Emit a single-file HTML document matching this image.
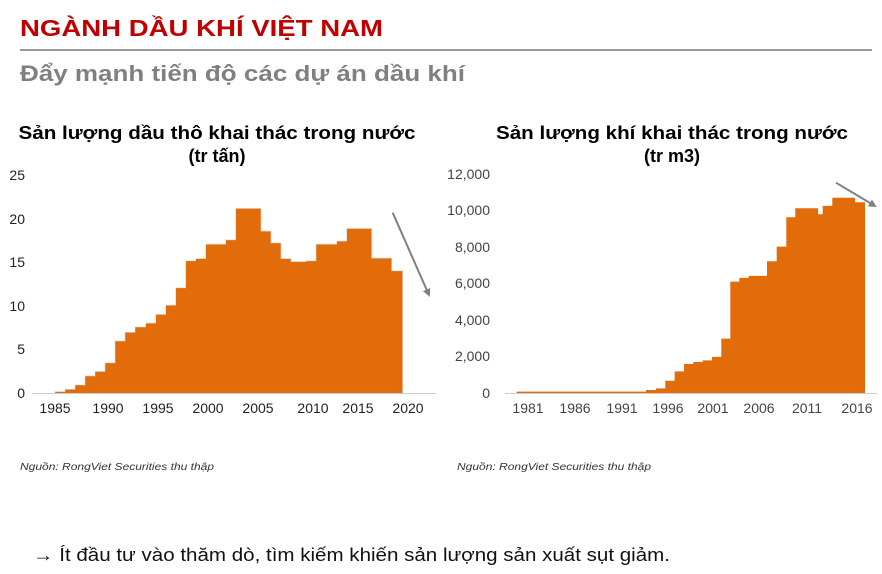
<!DOCTYPE html>
<html><head><meta charset="utf-8"><style>
html,body{margin:0;padding:0;background:#fff;}
svg{display:block;font-family:"Liberation Sans",sans-serif;}
</style></head><body>
<svg width="882" height="574" viewBox="0 0 882 574" xmlns="http://www.w3.org/2000/svg">
<defs><marker id="ah" markerWidth="8" markerHeight="8" refX="6" refY="4" orient="auto" markerUnits="userSpaceOnUse"><path d="M0,0 L8,4 L0,8 z" fill="#808080"/></marker></defs>
<text x="20" y="36" font-size="23" font-weight="bold" fill="#c00000" textLength="363" lengthAdjust="spacingAndGlyphs">NGÀNH DẦU KHÍ VIỆT NAM</text>
<rect x="20" y="49" width="852" height="2" fill="#999"/>
<text x="20" y="81" font-size="22" font-weight="bold" fill="#808080" textLength="445" lengthAdjust="spacingAndGlyphs">Đẩy mạnh tiến độ các dự án dầu khí</text>

<text x="217" y="139" font-size="18" font-weight="bold" text-anchor="middle" fill="#000" textLength="397" lengthAdjust="spacingAndGlyphs">Sản lượng dầu thô khai thác trong nước</text>
<text x="217" y="162" font-size="18" font-weight="bold" text-anchor="middle" fill="#000">(tr tấn)</text>
<text x="672" y="139" font-size="18" font-weight="bold" text-anchor="middle" fill="#000" textLength="352" lengthAdjust="spacingAndGlyphs">Sản lượng khí khai thác trong nước</text>
<text x="672" y="162" font-size="18" font-weight="bold" text-anchor="middle" fill="#000">(tr m3)</text>

<!-- left chart -->
<g font-size="14" fill="#222" text-anchor="end">
<text x="25" y="180">25</text><text x="25" y="224">20</text><text x="25" y="267">15</text><text x="25" y="311">10</text><text x="25" y="354">5</text><text x="25" y="398">0</text>
</g>
<path fill="#e36c0a" stroke="#d8d8d8" stroke-width="0.6" d="M55,393.3 V391.6 H65 V389.3 H75 V385 H85 V375.9 H95 V371.5 H105 V362.8 H115 V341 H125 V332.3 H135 V327 H145.7 V323.1 H155.7 V314.4 H165.7 V305.2 H175.7 V287.8 H185.7 V260.8 H195.7 V258.6 H205.7 V244.2 H225.7 V239.8 H235.7 V208.4 H261 V231.1 H271 V242.9 H281 V258.6 H291 V261.6 H306 V260.8 H316 V244.2 H336.7 V241.1 H346.7 V228.5 H371.7 V258.1 H391.7 V270.8 H402.7 V393.3 Z"/>
<rect x="32" y="393" width="404" height="1" fill="#ccc"/>
<g font-size="14" fill="#222" text-anchor="middle">
<text x="55" y="413">1985</text><text x="108" y="413">1990</text><text x="158" y="413">1995</text><text x="208" y="413">2000</text><text x="258" y="413">2005</text><text x="313" y="413">2010</text><text x="358" y="413">2015</text><text x="408" y="413">2020</text>
</g>
<line x1="392.7" y1="212.7" x2="429" y2="295" stroke="#808080" stroke-width="2" marker-end="url(#ah)"/>

<!-- right chart -->
<g font-size="14" fill="#444" text-anchor="end">
<text x="490" y="179">12,000</text><text x="490" y="215">10,000</text><text x="490" y="252">8,000</text><text x="490" y="288">6,000</text><text x="490" y="325">4,000</text><text x="490" y="361">2,000</text><text x="490" y="398">0</text>
</g>
<path fill="#e36c0a" d="M516.7,393.3 V391.6 H646 V390 H656 V388.4 H665.3 V380.7 H674.7 V371.4 H684 V364 H693.3 V362 H702.7 V360.4 H712 V356.9 H721.3 V338.6 H730.3 V281.6 H739.3 V277.9 H748.7 V275.9 H767 V261.3 H776.7 V246.6 H786.3 V217.2 H795.3 V208.3 H818 V214.3 H822.7 V205.9 H832.3 V197.7 H855 V202.3 H865 V393.3 Z"/>
<rect x="505" y="393" width="372" height="1" fill="#ccc"/>
<g font-size="14" fill="#444" text-anchor="middle">
<text x="528" y="413">1981</text><text x="575" y="413">1986</text><text x="622" y="413">1991</text><text x="668" y="413">1996</text><text x="713" y="413">2001</text><text x="759" y="413">2006</text><text x="807" y="413">2011</text><text x="857" y="413">2016</text>
</g>
<line x1="836" y1="182.7" x2="875" y2="206" stroke="#808080" stroke-width="2" marker-end="url(#ah)"/>

<text x="20" y="470" font-size="10.5" font-style="italic" fill="#333" textLength="194" lengthAdjust="spacingAndGlyphs">Nguồn: RongViet Securities thu thập</text>
<text x="457" y="470" font-size="10.5" font-style="italic" fill="#333" textLength="194" lengthAdjust="spacingAndGlyphs">Nguồn: RongViet Securities thu thập</text>

<text x="33" y="561" font-size="18" fill="#111" textLength="637" lengthAdjust="spacingAndGlyphs">→ Ít đầu tư vào thăm dò, tìm kiếm khiến sản lượng sản xuất sụt giảm.</text>
</svg>
</body></html>
